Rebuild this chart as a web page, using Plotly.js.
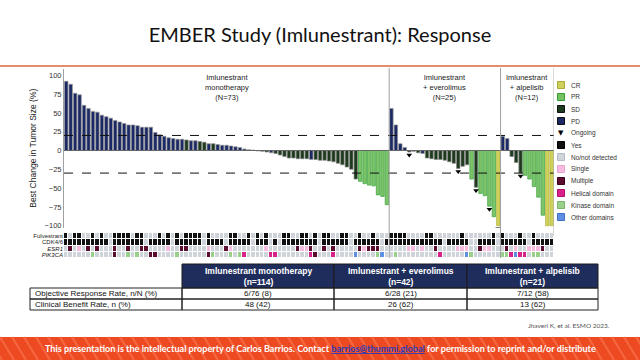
<!DOCTYPE html>
<html><head><meta charset="utf-8">
<script src="https://cdn.plot.ly/plotly-3.0.1.min.js"></script>
<style>html,body{margin:0;padding:0;background:#fff;}#chart{width:640px;height:360px;}</style>
</head><body><div id="chart"></div>
<script>
// ---------------- DATA ----------------
const slideTitle = 'EMBER Study (Imlunestrant): Response';
const groupLabels = ['Imlunestrant<br>monotherapy<br>(N=73)', 'Imlunestrant<br>+ everolimus<br>(N=25)', 'Imlunestrant<br>+ alpelisib<br>(N=12)'];
const yTitle = 'Best Change in Tumor Size (%)';
const yTicks = [-100, -75, -50, -25, 0, 25, 50, 75, 100];
const thresholdLines = [20, -30];

const monoChange = [92,88,76,74,60,56,52,51,47,45,43,40,38,36,34,34,33,31,31,31,
  24,21,19,17,16,15,15,14,13,13,12,11,9,9,8,7,7,
  6,5,4,2,1,
  0.5,-0.5,
  -1,-2,-3,-4,-6,-8,-10,-10,-11,-11,-11,-12,-12,-13,-13,-14,-15,-17,-19,-22,-25,
  -38,
  -41,-44,-46,-47,-59,-61,-72];
const monoResp = 'PPPPPPPPPPPPPPPPPPPPPPPPPPP' + 'S' + 'PP' + 'SS' + 'P' + 'S' + 'PPPPPPPP' + 'SSSS' + 'P' + 'SSSSSSSS' + 'P' + 'SSSSSSSSSS' + 'RRRRRRR';
const monoOngoing = [];

const everoChange = [56,34,9,4,-2,-1,-3,-4,-10,-11,-12,-12,-13,-15,-17,-24,-21,-19,-38,-49,-57,-60,-74,-88,-100];
const everoResp = 'PPPP' + 'SSS' + 'P' + 'SSSSSSSSSS' + 'R' + 'S' + 'RRRR' + 'C';
const everoOngoing = [4,15,19,22,24];

const alpelChange = [19,16,-8,-16,-30,-33,-38,-48,-62,-86,-100,-100];
const alpelResp = 'PPSSSRRRRRCC';
const alpelOngoing = [4];

// genomic rows (column indices across all 110 patients)
const rowNames = ['Fulvestrant', 'CDK4/6', '<i>ESR1</i>', '<i>PIK3CA</i>'];
const fulvestrantYes = [0,2,3,6,8,11,12,13,14,16,17,21,23,25,27,28,29,30,32,37,38,41,43,45,49,50,53,54,56,58,59,62,63,66,69,73,74,75,76,81,82,89,96,98,102,105];
const cdk46No = [10,18,24,31,36,42,46,48,57,64,71,85,91,92,97,104];
const esr1Multiple = [1,5,7,11,14,17,18,26,27,36,52,55,58,60,66,68,69,70,83,93,99,107];
const esr1Single = [3,23,32,37,45,53,54,67,77,78,80,88,89,90,94,95,101,104,105,106];
const pik3caHelical = [40,46,47,55,60,84,100,102,103];
const pik3caKinase = [6,14,16,25,33,37,39,70,74,91,98,99,105,106];
const pik3caMultiple = [11,19,20,32,56];
const pik3caOther = [65,71,90,101];

// legend
const legendLabels = ['CR','PR','SD','PD','Ongoing','Yes','No/not detected','Single','Multiple','Helical domain','Kinase domain','Other domains'];

// table
const tableHeaders = ['', 'Imlunestrant monotherapy<br>(n=114)', 'Imlunestrant + everolimus<br>(n=42)', 'Imlunestrant + alpelisib<br>(n=21)'];
const tableRowLabels = ['Objective Response Rate, n/N (%)', 'Clinical Benefit Rate, n (%)'];
const orrValues = ['6/76 (8)', '6/28 (21)', '7/12 (58)'];
const cbrValues = ['48 (42)', '26 (62)', '13 (62)'];

const citation = 'Jhaveri K, et al. ESMO 2023.';
const footerText = 'This presentation is the intellectual property of Carlos Barrios. Contact <span style="color:#2a3db8"><u>barrios@thummi.global</u></span> for permission to reprint and/or distribute';

// ---------------- BUILD ----------------
const W = 640, H = 360;
const py = p => 1 - p / H;
const pxx = p => p / W;

const allChange = monoChange.concat(everoChange, alpelChange);
const allResp = (monoResp + everoResp + alpelResp).split('');
const nBars = allChange.length;
const xIdx = allChange.map((_, i) => i);
const nMono = monoChange.length, nEvero = everoChange.length;

const fillMap = {P:'#1b2a66', S:'#1d3a1d', R:'#7cc36a', C:'#cfd15a'};
const lineMap = {P:'#9a9a9a', S:'#8a8a8a', R:'#37a33a', C:'#b3b23c'};

const ongoingIdx = monoOngoing.concat(everoOngoing.map(i => i + nMono), alpelOngoing.map(i => i + nMono + nEvero));

const barTrace = {
  type:'bar', x:xIdx, y:allChange, width:0.78,
  marker:{color:allResp.map(r => fillMap[r]), line:{color:allResp.map(r => lineMap[r]), width:0.7}},
  hoverinfo:'skip', xaxis:'x', yaxis:'y'
};
const ongoingTrace = {
  type:'scatter', mode:'markers', x:ongoingIdx, y:ongoingIdx.map(i => allChange[i] - 4),
  marker:{symbol:'triangle-down', size:5, color:'#000'}, hoverinfo:'skip', xaxis:'x', yaxis:'y'
};

const rowFul = new Array(nBars).fill(0); fulvestrantYes.forEach(i => rowFul[i] = 1);
const rowCdk = new Array(nBars).fill(1); cdk46No.forEach(i => rowCdk[i] = 0);
const rowEsr = new Array(nBars).fill(0); esr1Single.forEach(i => rowEsr[i] = 2); esr1Multiple.forEach(i => rowEsr[i] = 3);
const rowPik = new Array(nBars).fill(0); pik3caMultiple.forEach(i => rowPik[i] = 3); pik3caHelical.forEach(i => rowPik[i] = 4);
pik3caKinase.forEach(i => rowPik[i] = 5); pik3caOther.forEach(i => rowPik[i] = 6);
const catColors = ['#cfd4db', '#111111', '#f5badd', '#5a0d2e', '#d82189', '#98d08a', '#5f8fe3'];
const cs = [];
catColors.forEach((c, k) => {
  const a = k === 0 ? 0 : (k - 0.5) / 6, b = k === 6 ? 1 : (k + 0.5) / 6;
  cs.push([a, c]); cs.push([b, c]);
});
const heatTrace = {
  type:'heatmap', x:xIdx, y:[0,1,2,3], z:[rowFul, rowCdk, rowEsr, rowPik], zmin:0, zmax:6,
  colorscale:cs, showscale:false, xgap:1, ygap:1, hoverinfo:'skip', xaxis:'x', yaxis:'y2'
};

const shapes = [];
const annotations = [];
// title rule
shapes.push({type:'line', xref:'paper', yref:'paper', x0:0, x1:1, y0:py(66), y1:py(66), line:{color:'#e58c6c', width:2}});
// footer band
shapes.push({type:'rect', xref:'paper', yref:'paper', x0:0, x1:1, y0:0, y1:py(337), fillcolor:'#ee4a22', line:{width:0}, layer:'below'});
for (let k = -3; k < 56; k++) {
  const x0 = k * 12;
  shapes.push({type:'line', xref:'paper', yref:'paper', x0:pxx(x0), x1:pxx(x0 + 14), y0:py(337), y1:0, line:{color:'#f46740', width:2}, layer:'below'});
}
// zero & threshold lines
shapes.push({type:'line', xref:'x', yref:'y', x0:-0.5, x1:nBars - 0.5, y0:0, y1:0, line:{color:'#666', width:1}});
thresholdLines.forEach(v => shapes.push({type:'line', xref:'x', yref:'y', x0:-0.5, x1:nBars - 0.5, y0:v, y1:v, line:{color:'#111', width:1, dash:'dash'}}));
// group separators
[nMono - 0.5, nMono + nEvero - 0.5].forEach(xv => shapes.push({type:'line', xref:'x', yref:'paper', x0:xv, x1:xv, y0:py(258), y1:py(68), line:{color:'#a0a0a0', width:1}}));
shapes.push({type:'line', xref:'x', yref:'paper', x0:nBars - 0.5, x1:nBars - 0.5, y0:py(236), y1:py(68), line:{color:'#b0b0b0', width:1}});

// legend
const legendFill = ['#cdd05a','#76c263','#1d3a1d','#1b2a66',null,'#111111','#cfd4db','#f5badd','#5a0d2e','#d82189','#98d08a','#5f8fe3'];
const legendLine = ['#a9ab38','#2f9e2f','#111','#111',null,'#000','#b5bcc5','#e9a3cc','#3a0018','#b0106c','#7ab56d','#3f6fc9'];
legendLabels.forEach((lab, k) => {
  const yc = 85 + 12 * k;
  if (legendFill[k]) {
    shapes.push({type:'rect', xref:'paper', yref:'paper', x0:pxx(557.5), x1:pxx(564.5), y0:py(yc + 3.5), y1:py(yc - 3.5), fillcolor:legendFill[k], line:{color:legendLine[k], width:1}});
  } else {
    annotations.push({xref:'paper', yref:'paper', x:pxx(561), y:py(yc), text:'▼', showarrow:false, font:{size:7, color:'#000', family:'DejaVu Sans'}, xanchor:'center', yanchor:'middle'});
  }
  annotations.push({xref:'paper', yref:'paper', x:pxx(568.5), y:py(yc), text:lab, showarrow:false, font:{size:6.5, color:'#333', family:'Liberation Sans'}, xanchor:'left', yanchor:'middle'});
});
const groupCenters = [(nMono - 1) / 2, nMono + (nEvero - 1) / 2, nMono + nEvero + (alpelChange.length - 1) / 2];
groupLabels.forEach((g, k) => annotations.push({xref:'x', yref:'paper', x:groupCenters[k], y:py(71), text:g, showarrow:false, xanchor:'center', yanchor:'top', font:{size:7.5, color:'#222', family:'Liberation Sans'}}));

// table (drawn as cells)
const colEdges = [30, 182, 334, 467, 598];
const headTop = 264, headBot = 288, rowH = 11;
const navy = '#1f2d5c';
const bodyRows = [[tableRowLabels[0]].concat(orrValues), [tableRowLabels[1]].concat(cbrValues)];
for (let c = 1; c < tableHeaders.length; c++) {
  shapes.push({type:'rect', xref:'paper', yref:'paper', x0:pxx(colEdges[c]), x1:pxx(colEdges[c + 1]), y0:py(headBot), y1:py(headTop), fillcolor:navy, line:{color:'#1a1a1a', width:1}});
  annotations.push({xref:'paper', yref:'paper', x:pxx((colEdges[c] + colEdges[c + 1]) / 2), y:py((headTop + headBot) / 2), text:'<b>' + tableHeaders[c] + '</b>', showarrow:false, xanchor:'center', yanchor:'middle', font:{size:8.5, color:'#fff', family:'Liberation Sans'}});
}
bodyRows.forEach((row, r) => {
  const t = headBot + r * rowH, b = t + rowH;
  row.forEach((val, c) => {
    shapes.push({type:'rect', xref:'paper', yref:'paper', x0:pxx(colEdges[c]), x1:pxx(colEdges[c + 1]), y0:py(b), y1:py(t), fillcolor:'rgba(255,255,255,0)', line:{color:'#222', width:1}});
    annotations.push({xref:'paper', yref:'paper', x:c === 0 ? pxx(colEdges[0] + 3) : pxx((colEdges[c] + colEdges[c + 1]) / 2), y:py((t + b) / 2), text:val, showarrow:false, xanchor:c === 0 ? 'left' : 'center', yanchor:'middle', font:{size:8, color:'#111', family:'Liberation Sans'}});
  });
});

annotations.push({xref:'paper', yref:'paper', x:pxx(612), y:py(325), text:citation, showarrow:false, xanchor:'right', yanchor:'middle', font:{size:6.5, color:'#555', family:'Lato'}});
annotations.push({xref:'paper', yref:'paper', x:0.5, y:py(348), text:'<b>' + footerText + '</b>', showarrow:false, xanchor:'center', yanchor:'middle', font:{size:9.1, color:'#fff', family:'Lato'}});

const layout = {
  width:W, height:H, margin:{l:0, r:0, t:0, b:0}, paper_bgcolor:'#fff', plot_bgcolor:'rgba(0,0,0,0)',
  showlegend:false,
  title:{text:slideTitle, x:0.5, xanchor:'center', y:py(35), yanchor:'middle', font:{size:20, color:'#111', family:'Lato'}},
  xaxis:{domain:[pxx(64), pxx(554)], range:[-0.5, nBars - 0.5], showticklabels:false, showgrid:false, zeroline:false, showline:false, ticks:'', anchor:'y'},
  yaxis:{domain:[py(228), py(68.5)], range:[-103, 109], tickvals:yTicks, ticks:'', showgrid:false, zeroline:false,
    showline:true, linecolor:'#a0a0a0', linewidth:1, tickfont:{size:7.5, color:'#333', family:'Liberation Sans'},
    title:{text:yTitle, font:{size:8.5, color:'#222', family:'Liberation Sans'}, standoff:6}, anchor:'x'},
  yaxis2:{domain:[py(258), py(233)], range:[3.5, -0.5], tickvals:[0,1,2,3], ticktext:rowNames, ticks:'', showgrid:false, zeroline:false, showline:false,
    tickfont:{size:6, color:'#222', family:'Liberation Sans'}, anchor:'x'},
  shapes:shapes, annotations:annotations
};

Plotly.newPlot('chart', [heatTrace, barTrace, ongoingTrace], layout, {displayModeBar:false, staticPlot:true});
</script></body></html>
